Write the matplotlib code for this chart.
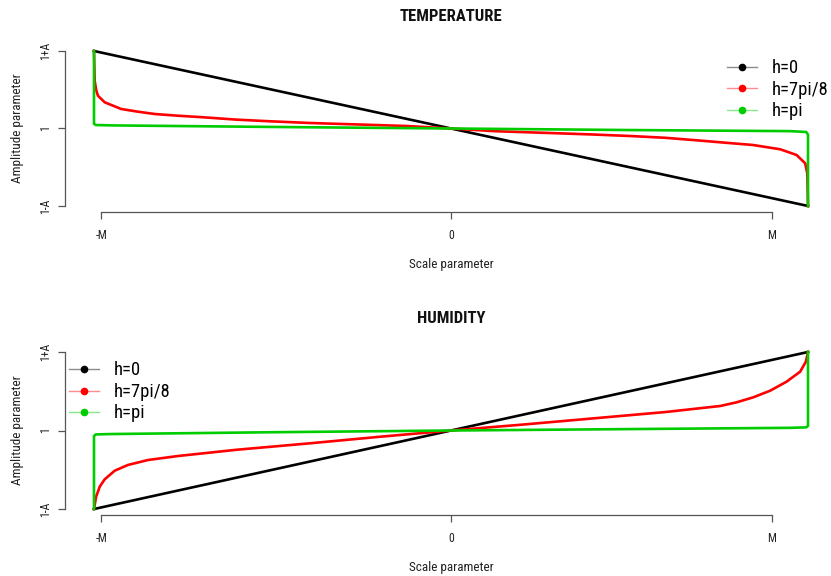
import matplotlib
matplotlib.use("Agg")
import matplotlib.pyplot as plt
from matplotlib.lines import Line2D
from matplotlib.legend_handler import HandlerTuple

plt.rcParams['font.family'] = ['Roboto Condensed', 'Liberation Sans', 'DejaVu Sans']

# ---- data -------------------------------------------------------------
series_labels = ["h=0", "h=7pi/8", "h=pi"]
series_colors = ["#000000", "#FF0000", "#00CD00"]

x_ticks = [-0.98, 0.0, 0.899]
x_ticklabels = ["-M", "0", "M"]
y_ticks = [-1.0, 0.0, 1.0]
y_ticklabels = ["1-A", "1", "1+A"]

# TEMPERATURE panel
temp_h0_x = [-1.0, 1.0]
temp_h0_y = [1.0, -1.0]

temp_h78_x = [-1.0, -0.998, -0.994, -0.989, -0.970, -0.924, -0.877, -0.830, -0.765,
              -0.695, -0.600, -0.507, -0.395, -0.275, -0.124, 0.0, 0.124, 0.275,
              0.395, 0.507, 0.600, 0.695, 0.754, 0.846, 0.922, 0.968, 0.992,
              0.998, 1.0]
temp_h78_y = [1.0, 0.617, 0.50, 0.423, 0.338, 0.252, 0.217, 0.187, 0.165,
              0.145, 0.114, 0.093, 0.071, 0.054, 0.032, 0.0, -0.035, -0.058,
              -0.077, -0.098, -0.120, -0.155, -0.178, -0.213, -0.268, -0.342, -0.449,
              -0.578, -1.0]

temp_hpi_x = [-1.0, -1.0, -0.995, -0.95, -0.5, 0.0, 0.5, 0.95, 0.995, 1.0, 1.0]
temp_hpi_y = [1.0, 0.06, 0.045, 0.040, 0.020, 0.0, -0.020, -0.034, -0.045, -0.08, -1.0]

# HUMIDITY panel
hum_h0_x = [-1.0, 1.0]
hum_h0_y = [-1.0, 1.0]

hum_h78_x = [-1.0, -0.994, -0.984, -0.970, -0.942, -0.905, -0.849, -0.765, -0.60,
             -0.40, -0.20, 0.0, 0.20, 0.40, 0.60, 0.754, 0.800, 0.847, 0.894,
             0.940, 0.978, 0.994, 0.999, 1.0]
hum_h78_y = [-1.0, -0.843, -0.716, -0.622, -0.512, -0.439, -0.376, -0.325, -0.245,
             -0.165, -0.080, 0.0, 0.075, 0.155, 0.235, 0.312, 0.359, 0.423, 0.507,
             0.622, 0.749, 0.876, 0.983, 1.0]

hum_hpi_x = [-1.0, -1.0, -0.995, -0.95, -0.5, 0.0, 0.5, 0.95, 0.995, 1.0, 1.0]
hum_hpi_y = [-1.0, -0.07, -0.05, -0.045, -0.022, 0.0, 0.018, 0.034, 0.040, 0.06, 1.0]

# ---- figure -----------------------------------------------------------
fig = plt.figure(figsize=(8.31, 5.76), dpi=100)
ax_t = fig.add_axes([0.07822, 0.63160, 0.92900, 0.29063])
ax_h = fig.add_axes([0.07822, 0.10538, 0.92900, 0.29444])

axis_col = "#555555"
text_col = "#222222"
tick_size = 8.5
label_size = 9.5


def style_axes(ax, title, xlab_y, title_y):
    ax.set_xlim(-1.0812, 1.0812)
    ax.set_ylim(-1.08, 1.08)
    for s in ("top", "right"):
        ax.spines[s].set_visible(False)
    ax.spines["left"].set_bounds(y_ticks[0], y_ticks[-1])
    ax.spines["bottom"].set_bounds(x_ticks[0], x_ticks[-1])
    for s in ("left", "bottom"):
        ax.spines[s].set_color(axis_col)
        ax.spines[s].set_linewidth(0.9)
    ax.set_xticks(x_ticks)
    ax.set_xticklabels(x_ticklabels)
    ax.set_yticks(y_ticks)
    ax.set_yticklabels(y_ticklabels, rotation=90, va="center")
    ax.tick_params(axis="both", direction="out", length=5, width=0.9,
                   color=axis_col, labelsize=tick_size, labelcolor=text_col)
    ax.tick_params(axis="x", pad=7)
    ax.tick_params(axis="y", pad=4)
    ax.text(0.5, xlab_y, "Scale parameter", transform=ax.transAxes,
            ha="center", va="center", fontsize=label_size, color=text_col)
    ax.text(-0.0609, 0.5, "Amplitude parameter", transform=ax.transAxes,
            ha="center", va="center", rotation=90, fontsize=label_size, color=text_col)
    ax.text(0.5, title_y, title, transform=ax.transAxes, ha="center",
            va="center", fontsize=12, fontweight="bold", color="#111111")


def draw_series(ax, xs, ys):
    for (x, y), c in zip(zip(xs, ys), series_colors):
        ax.plot(x, y, color=c, lw=1.9, solid_joinstyle="round", clip_on=False)


def add_legend(ax, anchor):
    handles = []
    for c in series_colors:
        ln = Line2D([], [], color=c, lw=1.0, alpha=0.45)
        mk = Line2D([], [], color=c, marker="o", markersize=4.5, lw=0)
        handles.append((ln, mk))
    ax.legend(handles, series_labels, loc="upper left", bbox_to_anchor=anchor,
              frameon=False, fontsize=13.3, handlelength=1.65,
              handletextpad=0.8, labelspacing=0.19, borderpad=0,
              borderaxespad=0, handler_map={tuple: HandlerTuple(ndivide=1, pad=0)})


draw_series(ax_t, [temp_h0_x, temp_h78_x, temp_hpi_x],
            [temp_h0_y, temp_h78_y, temp_hpi_y])
draw_series(ax_h, [hum_h0_x, hum_h78_x, hum_hpi_x],
            [hum_h0_y, hum_h78_y, hum_hpi_y])

style_axes(ax_t, "TEMPERATURE", -0.315, 1.168)
style_axes(ax_h, "HUMIDITY", -0.305, 1.160)

add_legend(ax_t, (0.8575, 0.915))
add_legend(ax_h, (0.005, 0.907))

fig.savefig("out.png", dpi=100)
